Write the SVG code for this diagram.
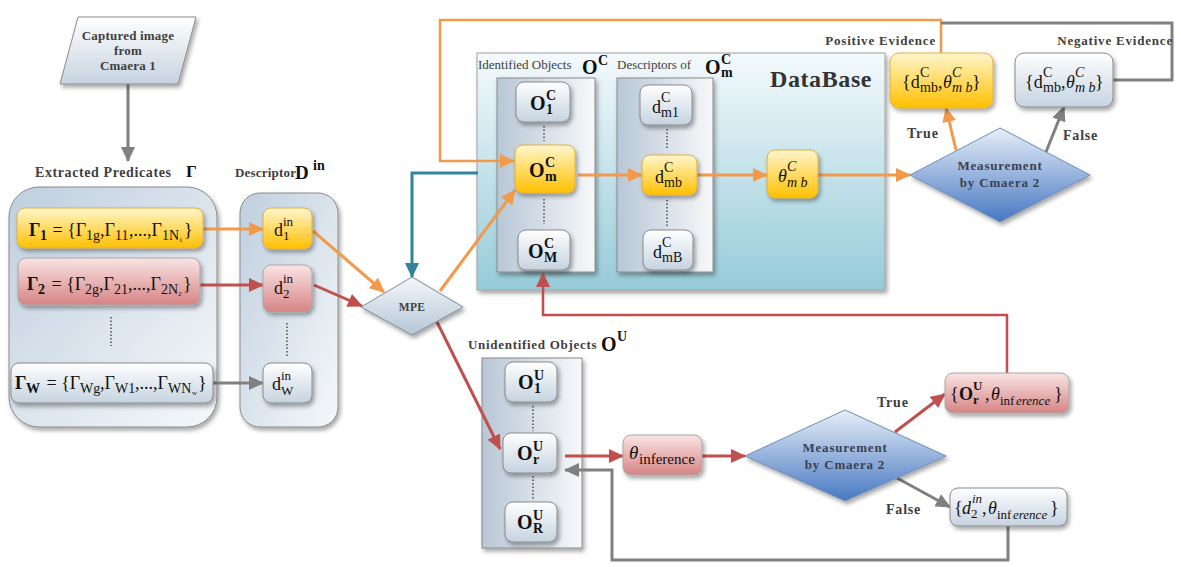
<svg xmlns="http://www.w3.org/2000/svg" width="1181" height="567" viewBox="0 0 1181 567">
<style>
.lbl{font-family:"Liberation Serif","Times New Roman",serif;font-weight:bold;font-size:13px;fill:#404040;letter-spacing:0.8px}
.reg{font-family:"Liberation Serif","Times New Roman",serif;font-size:13px;fill:#404040}
.m{font-family:"Liberation Serif","Times New Roman",serif;font-size:18px;fill:#111}
.b{font-weight:bold}
.i{font-style:italic}
.s{font-size:14px}
.s13{font-size:13px}
.big{font-size:20px}
.ln{fill:none;stroke-width:3}
.or{stroke:#f29a4c}
.rd{stroke:#c0504d}
.gy{stroke:#808080}
.tl{stroke:#31849b}
.dot{stroke:#555;stroke-width:1.6;stroke-dasharray:1.5 2}
.light{fill:url(#gLight);stroke:#8a8a8a;stroke-width:1;filter:url(#sh)}
.yel{fill:url(#gYel);stroke:#e0b040;stroke-width:1;filter:url(#sh)}
.red{fill:url(#gRed);stroke:#a8a8a8;stroke-width:1;filter:url(#sh)}
.pan{fill:url(#gPan);stroke:#8a8a8a;stroke-width:1;filter:url(#sh)}
.dk{fill:#3a4250}
</style>
<defs>
<filter id="sh" x="-20%" y="-20%" width="150%" height="160%"><feDropShadow dx="2" dy="3" stdDeviation="2" flood-color="#000" flood-opacity="0.35"/></filter>
<linearGradient id="gLight" x1="0" y1="0" x2="0" y2="1"><stop offset="0" stop-color="#ffffff"/><stop offset="1" stop-color="#c5d3e0"/></linearGradient>
<linearGradient id="gYel" x1="0" y1="0" x2="0" y2="1"><stop offset="0" stop-color="#fff6cc"/><stop offset="1" stop-color="#ffc000"/></linearGradient>
<linearGradient id="gRed" x1="0" y1="0" x2="0" y2="1"><stop offset="0" stop-color="#fae4e4"/><stop offset="1" stop-color="#d68484"/></linearGradient>
<linearGradient id="gPan" x1="0" y1="0" x2="1" y2="0"><stop offset="0" stop-color="#b8c7d6"/><stop offset="1" stop-color="#f7f8fa"/></linearGradient>
<linearGradient id="gBig" x1="0" y1="0" x2="1" y2="1"><stop offset="0" stop-color="#bfcfdf"/><stop offset="1" stop-color="#f6f8fa"/></linearGradient>
<linearGradient id="gDB" x1="0" y1="0" x2="0" y2="1"><stop offset="0" stop-color="#f4fafc"/><stop offset="1" stop-color="#96cbd9"/></linearGradient>
<linearGradient id="gMPE" x1="0" y1="0" x2="0" y2="1"><stop offset="0" stop-color="#f4f7fa"/><stop offset="1" stop-color="#b5c6d7"/></linearGradient>
<linearGradient id="gMeas" x1="0" y1="0" x2="0" y2="1"><stop offset="0" stop-color="#e8eff8"/><stop offset="1" stop-color="#4677c2"/></linearGradient>
<marker id="aO" markerUnits="userSpaceOnUse" markerWidth="15" markerHeight="14" refX="14" refY="7" orient="auto"><path d="M0,0 L15,7 L0,14 z" fill="#f29a4c"/></marker>
<marker id="aR" markerUnits="userSpaceOnUse" markerWidth="15" markerHeight="14" refX="14" refY="7" orient="auto"><path d="M0,0 L15,7 L0,14 z" fill="#c0504d"/></marker>
<marker id="aG" markerUnits="userSpaceOnUse" markerWidth="15" markerHeight="14" refX="14" refY="7" orient="auto"><path d="M0,0 L15,7 L0,14 z" fill="#808080"/></marker>
<marker id="aT" markerUnits="userSpaceOnUse" markerWidth="15" markerHeight="14" refX="14" refY="7" orient="auto"><path d="M0,0 L15,7 L0,14 z" fill="#31849b"/></marker>
</defs>

<!-- containers -->
<g id="panel-predicates">
<rect x="9" y="187" width="208" height="240" rx="30" fill="url(#gBig)" stroke="#8a8a8a" filter="url(#sh)"/>
<text x="35" y="177" class="lbl" style="font-size:14px;letter-spacing:0.6px">Extracted Predicates</text>
<text x="186" y="177" class="m b" style="font-size:17px">Γ</text>
<line x1="111" y1="317" x2="111" y2="346" class="dot"/>
</g>
<g id="panel-descriptor">
<rect x="240" y="193" width="98" height="234" rx="20" fill="url(#gBig)" stroke="#8a8a8a" filter="url(#sh)"/>
<text x="235" y="177" class="lbl" style="letter-spacing:0.2px">Descriptor</text>
<text class="m b"><tspan x="295" y="179" style="font-size:19px">D</tspan><tspan x="313" y="170" class="s">in</tspan></text>
<line x1="287" y1="323" x2="287" y2="357" class="dot"/>
</g>
<g id="database">
<rect x="477" y="53" width="408" height="237" fill="url(#gDB)" stroke="#a0a0a0" filter="url(#sh)"/>
<text x="770" y="87" class="m b" style="font-size:24px;fill:#333;letter-spacing:0.6px">DataBase</text>
<text x="478" y="69" class="reg">Identified Objects</text>
<text class="m b"><tspan x="582" y="74" class="big">O</tspan><tspan x="598" y="65" class="s">C</tspan></text>
<text x="617" y="69" class="reg">Descriptors of</text>
<text class="m b"><tspan x="705" y="74" class="big">O</tspan><tspan x="721" y="64" class="s">C</tspan><tspan x="721" y="77" class="s">m</tspan></text>
<rect x="497" y="78" width="98" height="194" class="pan"/>
<rect x="617" y="78" width="96" height="194" class="pan"/>
<line x1="544" y1="126" x2="544" y2="141" class="dot"/>
<line x1="544" y1="199" x2="544" y2="224" class="dot"/>
<line x1="667" y1="129" x2="667" y2="150" class="dot"/>
<line x1="667" y1="200" x2="667" y2="226" class="dot"/>
</g>
<g id="panel-unidentified">
<rect x="482" y="358" width="100" height="190" class="pan"/>
<text x="468" y="349" class="lbl" style="letter-spacing:0.7px">Unidentified Objects</text>
<text class="m b"><tspan x="601" y="351" class="big">O</tspan><tspan x="617" y="341" class="s">U</tspan></text>
<line x1="533" y1="406" x2="533" y2="431" class="dot"/>
<line x1="533" y1="476" x2="533" y2="500" class="dot"/>
</g>

<!-- connectors -->
<g id="connectors">
<line x1="128" y1="84" x2="128" y2="161" class="ln gy" marker-end="url(#aG)"/>
<line x1="203" y1="229" x2="263" y2="229" class="ln or" marker-end="url(#aO)"/>
<line x1="200" y1="285" x2="263" y2="285" class="ln rd" marker-end="url(#aR)"/>
<line x1="213" y1="383" x2="263" y2="383" class="ln gy" marker-end="url(#aG)"/>
<line x1="313" y1="231" x2="384" y2="292" class="ln or" marker-end="url(#aO)"/>
<line x1="314" y1="285" x2="362" y2="306" class="ln rd" marker-end="url(#aR)"/>
<path d="M478,173 H412 V277" class="ln tl" marker-end="url(#aT)"/>
<line x1="440" y1="291" x2="515" y2="190" class="ln or" marker-end="url(#aO)"/>
<path d="M941,53 V20 H440 V161 H514" class="or" fill="none" stroke-width="2.5" marker-end="url(#aO)"/>
<path d="M1113,80 H1172 V23 H941" class="gy" fill="none" stroke-width="3"/>
<line x1="578" y1="175" x2="642" y2="175" class="ln or" marker-end="url(#aO)"/>
<line x1="697" y1="175" x2="767" y2="175" class="ln or" marker-end="url(#aO)"/>
<line x1="818" y1="175" x2="910" y2="175" class="ln or" marker-end="url(#aO)"/>
<line x1="956" y1="150" x2="946" y2="108" class="ln or" marker-end="url(#aO)"/>
<line x1="1046" y1="152" x2="1064" y2="107" class="ln gy" marker-end="url(#aG)"/>
<line x1="437" y1="322" x2="500" y2="449" class="ln rd" marker-end="url(#aR)"/>
<line x1="565" y1="456" x2="623" y2="456" class="ln rd" marker-end="url(#aR)"/>
<line x1="702" y1="456" x2="745" y2="456" class="ln rd" marker-end="url(#aR)"/>
<line x1="895" y1="432" x2="945" y2="394" class="ln rd" marker-end="url(#aR)"/>
<line x1="897" y1="478" x2="950" y2="507" class="ln gy" marker-end="url(#aG)"/>
<path d="M1007,373 V315 H543 V273" class="rd" fill="none" stroke-width="2.5" marker-end="url(#aR)"/>
<path d="M1008,526 V560 H612 V470 H565" class="gy" fill="none" stroke-width="3" marker-end="url(#aG)"/>
</g>

<!-- nodes -->
<g id="captured">
<polygon points="78,17 196,17 178,84 60,84" fill="url(#gLight)" stroke="#8a8a8a" filter="url(#sh)"/>
<text x="128" y="40" class="lbl" text-anchor="middle" style="letter-spacing:0.2px">Captured image</text>
<text x="128" y="55" class="lbl" text-anchor="middle" style="letter-spacing:0.2px">from</text>
<text x="128" y="70" class="lbl" text-anchor="middle" style="letter-spacing:0.2px">Cmaera 1</text>
</g>
<g id="gamma1">
<rect x="17" y="208" width="186" height="40" rx="8" class="yel"/>
<text class="m"><tspan x="29" y="236" class="b">Γ</tspan><tspan x="40" y="240" class="b s">1</tspan><tspan x="48" y="236"> = {Γ</tspan><tspan x="86" y="240" class="s">1g</tspan><tspan x="100" y="236">,Γ</tspan><tspan x="115" y="240" class="s">11</tspan><tspan x="129" y="236">,...,Γ</tspan><tspan x="162" y="240" class="s">1N</tspan><tspan x="179" y="242" style="font-size:7px">1</tspan><tspan x="184" y="236">}</tspan></text>
</g>
<g id="gamma2">
<rect x="18" y="258" width="182" height="47" rx="8" class="red"/>
<text class="m"><tspan x="27" y="290" class="b">Γ</tspan><tspan x="38" y="294" class="b s">2</tspan><tspan x="47" y="290"> = {Γ</tspan><tspan x="85" y="294" class="s">2g</tspan><tspan x="99" y="290">,Γ</tspan><tspan x="114" y="294" class="s">21</tspan><tspan x="128" y="290">,...,Γ</tspan><tspan x="161" y="294" class="s">2N</tspan><tspan x="178" y="296" style="font-size:7px">2</tspan><tspan x="183" y="290">}</tspan></text>
</g>
<g id="gammaW">
<rect x="11" y="363" width="202" height="40" rx="8" class="light"/>
<text class="m"><tspan x="15" y="389" class="b">Γ</tspan><tspan x="26" y="393" class="b s">W</tspan><tspan x="42" y="389"> = {Γ</tspan><tspan x="80" y="393" class="s">Wg</tspan><tspan x="100" y="389">,Γ</tspan><tspan x="115" y="393" class="s">W1</tspan><tspan x="135" y="389">,...,Γ</tspan><tspan x="168" y="393" class="s">WN</tspan><tspan x="192" y="395" style="font-size:7px">w</tspan><tspan x="198" y="389">}</tspan></text>
</g>
<g id="d1">
<rect x="263" y="208" width="49" height="41" rx="8" class="yel"/>
<text class="m"><tspan x="274" y="236">d</tspan><tspan x="283" y="226" class="s13">in</tspan><tspan x="283" y="240" class="s13">1</tspan></text>
</g>
<g id="d2">
<rect x="263" y="265" width="49" height="47" rx="8" class="red"/>
<text class="m"><tspan x="274" y="294">d</tspan><tspan x="283" y="283" class="s13">in</tspan><tspan x="283" y="298" class="s13">2</tspan></text>
</g>
<g id="dW">
<rect x="263" y="363" width="49" height="40" rx="8" class="light"/>
<text class="m"><tspan x="272" y="390">d</tspan><tspan x="281" y="380" class="s13">in</tspan><tspan x="281" y="395" class="s13">W</tspan></text>
</g>
<g id="mpe">
<polygon points="361,307 412,277 463,307 412,335" fill="url(#gMPE)" stroke="#7d8d9d" filter="url(#sh)"/>
<text x="412" y="311" class="lbl" text-anchor="middle" style="font-size:11.5px;letter-spacing:0.3px">MPE</text>
</g>
<g id="o1c">
<rect x="516" y="82" width="54" height="40" rx="8" class="light"/>
<text class="m b"><tspan x="530" y="110" class="big">O</tspan><tspan x="546" y="100" class="s">C</tspan><tspan x="546" y="114" class="s">1</tspan></text>
</g>
<g id="omc">
<rect x="515" y="145" width="60" height="48" rx="8" class="yel"/>
<text class="m b"><tspan x="529" y="177" class="big">O</tspan><tspan x="545" y="167" class="s">C</tspan><tspan x="545" y="181" class="s">m</tspan></text>
</g>
<g id="oMc">
<rect x="518" y="230" width="52" height="40" rx="8" class="light"/>
<text class="m b"><tspan x="528" y="258" class="big">O</tspan><tspan x="544" y="248" class="s">C</tspan><tspan x="544" y="262" class="s">M</tspan></text>
</g>
<g id="dm1">
<rect x="640" y="85" width="52" height="40" rx="8" class="light"/>
<text class="m"><tspan x="652" y="113">d</tspan><tspan x="661" y="102" class="s">C</tspan><tspan x="661" y="117" class="s">m1</tspan></text>
</g>
<g id="dmb">
<rect x="642" y="155" width="55" height="40" rx="8" class="yel"/>
<text class="m"><tspan x="655" y="183">d</tspan><tspan x="664" y="172" class="s">C</tspan><tspan x="664" y="187" class="s">mb</tspan></text>
</g>
<g id="dmB">
<rect x="643" y="230" width="50" height="40" rx="8" class="light"/>
<text class="m"><tspan x="653" y="258">d</tspan><tspan x="662" y="247" class="s">C</tspan><tspan x="662" y="262" class="s">mB</tspan></text>
</g>
<g id="thetamb">
<rect x="767" y="150" width="51" height="48" rx="8" class="yel"/>
<text class="m i"><tspan x="778" y="182">θ</tspan><tspan x="787" y="171" class="s">C</tspan><tspan x="787" y="187" class="s">m b</tspan></text>
</g>
<g id="meas1">
<polygon points="910,175 1000,128 1090,175 1000,222" fill="url(#gMeas)" stroke="#6f8fb8" filter="url(#sh)"/>
<text x="1000" y="170" class="lbl dk" text-anchor="middle">Measurement</text>
<text x="1000" y="187" class="lbl dk" text-anchor="middle">by Cmaera 2</text>
</g>
<g id="positive">
<rect x="890" y="53" width="103" height="55" rx="9" class="yel"/>
<text x="936" y="45" class="lbl" text-anchor="end">Positive Evidence</text>
<text class="m"><tspan x="902" y="88">{d</tspan><tspan x="920" y="77" class="s">C</tspan><tspan x="920" y="92" class="s">mb</tspan><tspan x="938" y="88">,</tspan><tspan x="943" y="88" class="i">θ</tspan><tspan x="952" y="77" class="s i">C</tspan><tspan x="952" y="92" class="s i">m b</tspan><tspan x="972" y="88">}</tspan></text>
<text x="907" y="138" class="lbl" style="font-size:14px">True</text>
</g>
<g id="negative">
<rect x="1015" y="53" width="98" height="54" rx="9" class="light"/>
<text x="1173" y="45" class="lbl" text-anchor="end">Negative Evidence</text>
<text class="m"><tspan x="1025" y="88">{d</tspan><tspan x="1043" y="77" class="s">C</tspan><tspan x="1043" y="92" class="s">mb</tspan><tspan x="1061" y="88">,</tspan><tspan x="1066" y="88" class="i">θ</tspan><tspan x="1075" y="77" class="s i">C</tspan><tspan x="1075" y="92" class="s i">m b</tspan><tspan x="1095" y="88">}</tspan></text>
<text x="1063" y="140" class="lbl" style="font-size:14px">False</text>
</g>
<g id="o1u">
<rect x="505" y="362" width="52" height="40" rx="8" class="light"/>
<text class="m b"><tspan x="518" y="389" class="big">O</tspan><tspan x="534" y="380" class="s">U</tspan><tspan x="534" y="393" class="s">1</tspan></text>
</g>
<g id="oru">
<rect x="503" y="433" width="54" height="40" rx="8" class="light"/>
<text class="m b"><tspan x="517" y="460" class="big">O</tspan><tspan x="533" y="451" class="s">U</tspan><tspan x="533" y="464" class="s">r</tspan></text>
</g>
<g id="oRu">
<rect x="505" y="502" width="52" height="40" rx="8" class="light"/>
<text class="m b"><tspan x="517" y="529" class="big">O</tspan><tspan x="533" y="520" class="s">U</tspan><tspan x="533" y="533" class="s">R</tspan></text>
</g>
<g id="thetainf">
<rect x="623" y="435" width="79" height="40" rx="8" class="red"/>
<text class="m"><tspan x="629" y="459" class="i" style="font-size:19px">θ</tspan><tspan x="639" y="464" style="font-size:15px">inference</tspan></text>
</g>
<g id="meas2">
<polygon points="745,456 845,410 946,456 845,501" fill="url(#gMeas)" stroke="#6f8fb8" filter="url(#sh)"/>
<text x="845" y="452" class="lbl dk" text-anchor="middle">Measurement</text>
<text x="845" y="469" class="lbl dk" text-anchor="middle">by Cmaera 2</text>
<text x="877" y="407" class="lbl" style="font-size:14px">True</text>
<text x="886" y="514" class="lbl" style="font-size:14px">False</text>
</g>
<g id="oru-theta">
<rect x="945" y="373" width="124" height="40" rx="8" class="red"/>
<text class="m"><tspan x="950" y="400">{</tspan><tspan x="959" y="400" class="b">O</tspan><tspan x="973" y="390" class="b s13">U</tspan><tspan x="973" y="404" class="b s13">r</tspan><tspan x="985" y="400">,</tspan><tspan x="991" y="400" class="i">θ</tspan><tspan x="1000" y="405" class="s13">inf</tspan><tspan x="1016" y="405" class="s13 i">erence</tspan><tspan x="1054" y="400">}</tspan></text>
</g>
<g id="d2-theta">
<rect x="950" y="488" width="117" height="38" rx="8" class="light"/>
<text class="m"><tspan x="954" y="514">{</tspan><tspan x="962" y="514" class="i">d</tspan><tspan x="972" y="503" class="i s13">in</tspan><tspan x="971" y="518" class="s13">2</tspan><tspan x="982" y="514">,</tspan><tspan x="988" y="514" class="i">θ</tspan><tspan x="997" y="519" class="s13">inf</tspan><tspan x="1013" y="519" class="s13 i">erence</tspan><tspan x="1050" y="514">}</tspan></text>
</g>
</svg>
